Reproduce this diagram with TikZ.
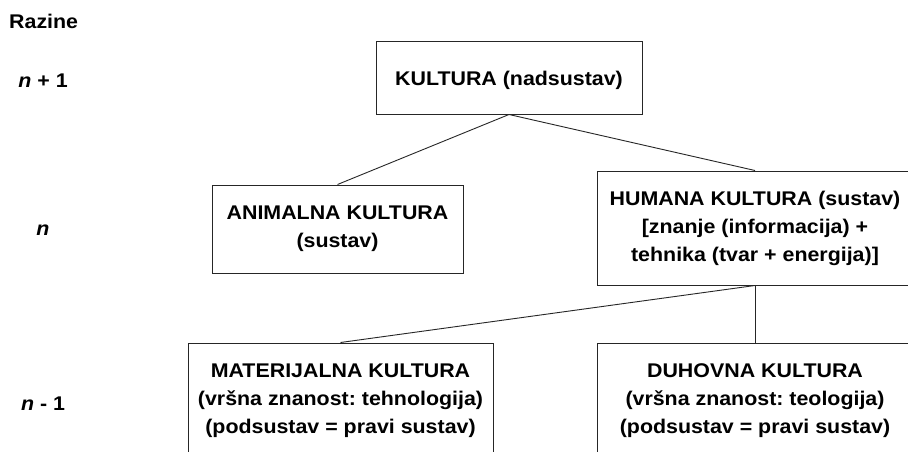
\documentclass[tikz,border=0pt]{standalone}
\usepackage{fontspec}
\setmainfont[FakeStretch=1.08]{Liberation Sans}
\frenchspacing
\newcommand{\tekst}{\fontsize{19.8pt}{28pt}\selectfont\bfseries}
\tikzset{
  kutija/.style={draw=black!85, line width=1pt, fill=white, inner sep=0pt, align=center, font=\tekst},
  veza/.style={draw=black!85, line width=0.9pt},
  razina/.style={font=\tekst, anchor=base, inner sep=0pt},
}
\begin{document}
\begin{tikzpicture}[x=1pt,y=1pt,yscale=-1,xscale=1]
\useasboundingbox (0,0) rectangle (908,452);
\clip (0,0) rectangle (908,452);
\fill[white] (0,0) rectangle (908,452);

%Text: levels
\node[razina, anchor=base west] (razine) at (9,29) {Razine};
\node[razina] (n1) at (43,88) {\textit{n} + 1};
\node[razina] (n0) at (43,235) {\textit{n}};
\node[razina] (nm1) at (43,410) {\textit{n} - 1};

%Shape: Rectangle
\node[kutija, minimum width=266pt, minimum height=72pt, text depth=0pt] (kultura) at (509,78) {KULTURA (nadsustav)};
%Shape: Rectangle
\node[kutija, minimum width=251pt, minimum height=88pt] (animalna) at (337.5,229) {ANIMALNA KULTURA\\(sustav)};
%Shape: Rectangle
\node[kutija, minimum width=316pt, minimum height=114pt] (humana) at (755,228) {HUMANA KULTURA (sustav)\\{}[znanje (informacija) +\\tehnika (tvar + energija)]};
%Shape: Rectangle
\node[kutija, minimum width=305pt, minimum height=115pt] (materijalna) at (340.5,400.5) {MATERIJALNA KULTURA\\(vršna znanost: tehnologija)\\(podsustav = pravi sustav)};
%Shape: Rectangle
\node[kutija, minimum width=316pt, minimum height=115pt] (duhovna) at (755,400.5) {DUHOVNA KULTURA\\(vršna znanost: teologija)\\(podsustav = pravi sustav)};

%Straight Lines
\draw[veza] (kultura.south) -- (animalna.north);
%Straight Lines
\draw[veza] (kultura.south) -- (humana.north);
%Straight Lines
\draw[veza] (humana.south) -- (materijalna.north);
%Straight Lines
\draw[veza] (humana.south) -- (duhovna.north);

\end{tikzpicture}
\end{document}
